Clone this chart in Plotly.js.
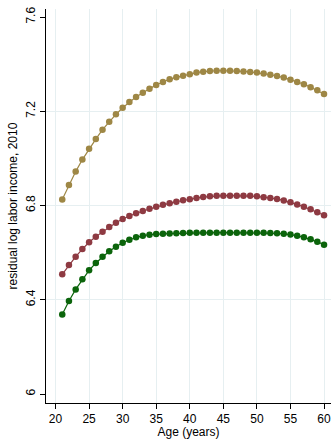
<!DOCTYPE html>
<html>
<head>
<meta charset="utf-8">
<script src="https://cdn.plot.ly/plotly-3.0.1.min.js"></script>
<style>html,body{margin:0;padding:0;background:#fff;}#chart{width:334px;height:439px;}</style>
</head>
<body>
<div id="chart"></div>
<script>
const ages = [21,22,23,24,25,26,27,28,29,30,31,32,33,34,35,36,37,38,39,40,41,42,43,44,45,46,47,48,49,50,51,52,53,54,55,56,57,58,59,60];
const goldSeries = [6.826,6.887,6.944,6.995,7.041,7.082,7.122,7.156,7.187,7.215,7.239,7.261,7.279,7.296,7.312,7.324,7.336,7.344,7.351,7.357,7.364,7.368,7.371,7.372,7.372,7.372,7.371,7.369,7.367,7.364,7.360,7.355,7.350,7.343,7.334,7.324,7.315,7.302,7.289,7.273];
const redSeries = [6.508,6.548,6.583,6.615,6.644,6.668,6.689,6.709,6.727,6.743,6.756,6.767,6.777,6.786,6.795,6.803,6.810,6.816,6.822,6.827,6.832,6.836,6.839,6.841,6.842,6.842,6.842,6.842,6.841,6.839,6.835,6.832,6.828,6.821,6.814,6.804,6.795,6.784,6.771,6.759];
const greenSeries = [6.338,6.395,6.444,6.487,6.525,6.556,6.583,6.606,6.625,6.642,6.655,6.665,6.672,6.676,6.679,6.680,6.681,6.682,6.683,6.684,6.684,6.684,6.685,6.685,6.685,6.685,6.685,6.685,6.685,6.685,6.684,6.683,6.682,6.680,6.677,6.672,6.665,6.657,6.646,6.634];
const seriesColors = ["#9e8745", "#8e3a42", "#0b640b"];
const xTicks = [20,25,30,35,40,45,50,55,60];
const yTicks = [6, 6.4, 6.8, 7.2, 7.6];
const yGridTicks = [6.4, 6.8, 7.2];

const allSeries = [goldSeries, redSeries, greenSeries];
const traces = allSeries.map((ys, i) => ({
  x: ages, y: ys, type: "scatter", mode: "lines+markers",
  line: {color: seriesColors[i], width: 1.2},
  marker: {color: seriesColors[i], size: 6.5},
  showlegend: false, hoverinfo: "skip"
}));
// invisible trace for grid axis
traces.push({x: [ages[0]], y: [yGridTicks[0]], yaxis: "y2", mode: "markers", marker: {opacity: 0}, showlegend: false, hoverinfo: "skip"});

const font = {family: "Liberation Sans, Arial, sans-serif", size: 12, color: "#000"};
const xr = [18.58, 61.04];
const yr = [5.962, 7.634];
const layout = {
  width: 334, height: 439,
  margin: {l: 46, r: 3, t: 9, b: 36},
  paper_bgcolor: "#fff", plot_bgcolor: "#fff",
  font: font,
  xaxis: {
    range: xr, tickvals: xTicks, ticktext: xTicks.map(String),
    showgrid: true, gridcolor: "#e6eff1", gridwidth: 1,
    zeroline: false, showline: true, linecolor: "#000", linewidth: 1,
    ticks: "outside", ticklen: 5, tickcolor: "#000", tickwidth: 1,
    tickfont: font,
    title: {text: "Age (years)", font: font, standoff: 2}
  },
  yaxis: {
    range: yr, tickvals: yTicks, ticktext: ["6", "6.4", "6.8", "7.2", "7.6"],
    tickangle: -90,
    showgrid: false, zeroline: false, showline: true, linecolor: "#000", linewidth: 1,
    ticks: "outside", ticklen: 5, tickcolor: "#000", tickwidth: 1,
    tickfont: font,
    title: {text: "residual log labor income, 2010", font: font, standoff: 4}
  },
  yaxis2: {
    range: yr, overlaying: "y", tickvals: yGridTicks, showticklabels: false,
    showgrid: true, gridcolor: "#e6eff1", gridwidth: 1, zeroline: false, showline: false, ticks: ""
  }
};
// draw grid behind data: reorder so grid axis trace is first
traces.unshift(traces.pop());
Plotly.newPlot("chart", traces, layout, {staticPlot: true, displayModeBar: false});
</script>
</body>
</html>
